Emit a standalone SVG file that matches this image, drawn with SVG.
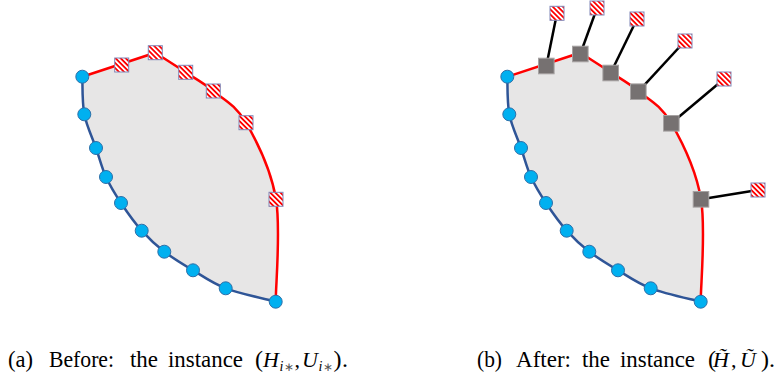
<svg xmlns="http://www.w3.org/2000/svg" xmlns:xlink="http://www.w3.org/1999/xlink" width="779" height="381" viewBox="0 0 779 381">
<style>
.fill{fill:#e7e6e6;stroke:none}
.blue{fill:none;stroke:#2f5597;stroke-width:2.5}
.red{fill:none;stroke:#ff0000;stroke-width:2.5}
.conn{stroke:#000;stroke-width:2.5}
.pt{fill:#00b0f0;stroke:#2e6fa8;stroke-width:1}
.hs{fill:url(#hatch);stroke:#8088b8;stroke-width:1}
.gs{fill:#767171;stroke:#a6a2a2;stroke-width:1}
.cap{font-family:"Liberation Serif","Times New Roman",serif;font-size:24px;fill:#000}
.m{font-size:22px}
.it{font-style:italic}
.sub{font-size:14px}
.ast{font-size:12px;fill:#555}
</style>
<defs>
<pattern id="hatch" width="3.6" height="3.6" patternUnits="userSpaceOnUse" patternTransform="rotate(-45)">
<rect width="3.6" height="3.6" fill="#fff"/><rect width="1.8" height="3.6" fill="#ff0000"/>
</pattern>
<g id="shape">
<path class="fill" d="M82.3,76.7 L155.3,52.7 C160.4,56 176,65.9 185.7,72.3 C195.4,78.7 203.2,82.6 213.3,91 C223.4,99.4 235.5,104.65 246,122.7 C256.45,140.75 271.05,169.5 276,199.3 C280.95,229.1 275.75,284.6 275.7,301.7 C267.37,299.47 239.48,293.53 225.7,288.3 C211.92,283.07 203.23,276.4 193,270.3 C182.77,264.2 172.85,258.3 164.3,251.7 C155.75,245.1 148.92,238.82 141.7,230.7 C134.48,222.58 126.95,211.95 121,203 C115.05,194.05 110.17,186.17 106,177 C101.83,167.83 99.62,158.45 96,148 C92.38,137.55 86.58,126.18 84.3,114.3 C82.02,102.42 82.63,82.97 82.3,76.7 Z"/>
<path class="blue" d="M82.3,76.7 C82.63,82.97 82.02,102.42 84.3,114.3 C86.58,126.18 92.38,137.55 96,148 C99.62,158.45 101.83,167.83 106,177 C110.17,186.17 115.05,194.05 121,203 C126.95,211.95 134.48,222.58 141.7,230.7 C148.92,238.82 155.75,245.1 164.3,251.7 C172.85,258.3 182.77,264.2 193,270.3 C203.23,276.4 211.92,283.07 225.7,288.3 C239.48,293.53 267.37,299.47 275.7,301.7"/>
<path class="red" d="M82.3,76.7 L155.3,52.7 C160.4,56 176,65.9 185.7,72.3 C195.4,78.7 203.2,82.6 213.3,91 C223.4,99.4 235.5,104.65 246,122.7 C256.45,140.75 271.05,169.5 276,199.3 C280.95,229.1 275.75,284.6 275.7,301.7"/>
</g>
</defs>

<!-- left figure -->
<use id="regionA" xlink:href="#shape" href="#shape"/>
<g id="a-sq1"><rect class="hs" x="114.7" y="58" width="14" height="14"/></g>
<g id="a-sq2"><rect class="hs" x="148.3" y="45.7" width="14" height="14"/></g>
<g id="a-sq3"><rect class="hs" x="178.7" y="65.3" width="14" height="14"/></g>
<g id="a-sq4"><rect class="hs" x="206.3" y="84" width="14" height="14"/></g>
<g id="a-sq5"><rect class="hs" x="239" y="115.7" width="14" height="14"/></g>
<g id="a-sq6"><rect class="hs" x="269" y="192.3" width="14" height="14"/></g>
<g id="a-c1"><circle class="pt" cx="82.3" cy="76.7" r="6.5"/></g>
<g id="a-c2"><circle class="pt" cx="84.3" cy="114.3" r="6.5"/></g>
<g id="a-c3"><circle class="pt" cx="96" cy="148" r="6.5"/></g>
<g id="a-c4"><circle class="pt" cx="106" cy="177" r="6.5"/></g>
<g id="a-c5"><circle class="pt" cx="121" cy="203" r="6.5"/></g>
<g id="a-c6"><circle class="pt" cx="141.7" cy="230.7" r="6.5"/></g>
<g id="a-c7"><circle class="pt" cx="164.3" cy="251.7" r="6.5"/></g>
<g id="a-c8"><circle class="pt" cx="193" cy="270.3" r="6.5"/></g>
<g id="a-c9"><circle class="pt" cx="225.7" cy="288.3" r="6.5"/></g>
<g id="a-c10"><circle class="pt" cx="275.7" cy="301.7" r="6.5"/></g>

<!-- right figure -->
<use id="regionB" xlink:href="#shape" href="#shape" transform="translate(425,0)"/>
<g id="connectors">
<line class="conn" x1="546.3" y1="66" x2="557" y2="13.3"/>
<line class="conn" x1="580.3" y1="54" x2="597" y2="8"/>
<line class="conn" x1="610.7" y1="73" x2="637" y2="19"/>
<line class="conn" x1="638.3" y1="91.7" x2="685" y2="41"/>
<line class="conn" x1="671.3" y1="123.3" x2="724" y2="79"/>
<line class="conn" x1="701" y1="199.3" x2="758" y2="190"/>
</g>
<g id="b-c1"><circle class="pt" cx="507.3" cy="76.7" r="6.5"/></g>
<g id="b-c2"><circle class="pt" cx="509.3" cy="114.3" r="6.5"/></g>
<g id="b-c3"><circle class="pt" cx="521" cy="148" r="6.5"/></g>
<g id="b-c4"><circle class="pt" cx="531" cy="177" r="6.5"/></g>
<g id="b-c5"><circle class="pt" cx="546" cy="203" r="6.5"/></g>
<g id="b-c6"><circle class="pt" cx="566.7" cy="230.7" r="6.5"/></g>
<g id="b-c7"><circle class="pt" cx="589.3" cy="251.7" r="6.5"/></g>
<g id="b-c8"><circle class="pt" cx="618" cy="270.3" r="6.5"/></g>
<g id="b-c9"><circle class="pt" cx="650.7" cy="288.3" r="6.5"/></g>
<g id="b-c10"><circle class="pt" cx="700.7" cy="301.7" r="6.5"/></g>
<g id="b-g1"><rect class="gs" x="538.5" y="58.2" width="15.6" height="15.6"/></g>
<g id="b-g2"><rect class="gs" x="572.5" y="46.2" width="15.6" height="15.6"/></g>
<g id="b-g3"><rect class="gs" x="602.9" y="65.2" width="15.6" height="15.6"/></g>
<g id="b-g4"><rect class="gs" x="630.5" y="83.9" width="15.6" height="15.6"/></g>
<g id="b-g5"><rect class="gs" x="663.5" y="115.5" width="15.6" height="15.6"/></g>
<g id="b-g6"><rect class="gs" x="693.2" y="191.5" width="15.6" height="15.6"/></g>
<g id="b-h1"><rect class="hs" x="550" y="6.3" width="14" height="14"/></g>
<g id="b-h2"><rect class="hs" x="590" y="1" width="14" height="14"/></g>
<g id="b-h3"><rect class="hs" x="630" y="12" width="14" height="14"/></g>
<g id="b-h4"><rect class="hs" x="678" y="34" width="14" height="14"/></g>
<g id="b-h5"><rect class="hs" x="717" y="72" width="14" height="14"/></g>
<g id="b-h6"><rect class="hs" x="751" y="183" width="14" height="14"/></g>

<!-- captions -->
<text class="cap" y="367"><tspan x="8" textLength="25" lengthAdjust="spacingAndGlyphs">(a)</tspan><tspan x="49" textLength="65" lengthAdjust="spacingAndGlyphs">Before:</tspan><tspan x="130" textLength="28" lengthAdjust="spacingAndGlyphs">the</tspan><tspan x="168" textLength="75" lengthAdjust="spacingAndGlyphs">instance</tspan><tspan x="255">(</tspan><tspan class="it m" x="263">H</tspan><tspan class="it sub" x="279.5" dy="4">i</tspan><tspan class="ast" x="284">∗</tspan><tspan class="m" x="294.5" dy="-4">,</tspan><tspan class="it m" x="302">U</tspan><tspan class="it sub" x="318.5" dy="4">i</tspan><tspan class="ast" x="323">∗</tspan><tspan x="333.5" dy="-4">)</tspan><tspan x="342">.</tspan></text>
<text class="cap" y="367"><tspan x="477" textLength="25" lengthAdjust="spacingAndGlyphs">(b)</tspan><tspan x="516" textLength="55" lengthAdjust="spacingAndGlyphs">After:</tspan><tspan x="582" textLength="28" lengthAdjust="spacingAndGlyphs">the</tspan><tspan x="620" textLength="75" lengthAdjust="spacingAndGlyphs">instance</tspan><tspan x="708">(</tspan><tspan class="it m" x="713">H̃</tspan><tspan class="m" x="731">,</tspan><tspan class="it m" x="740">Ũ</tspan><tspan x="761">)</tspan><tspan x="769">.</tspan></text>
</svg>
